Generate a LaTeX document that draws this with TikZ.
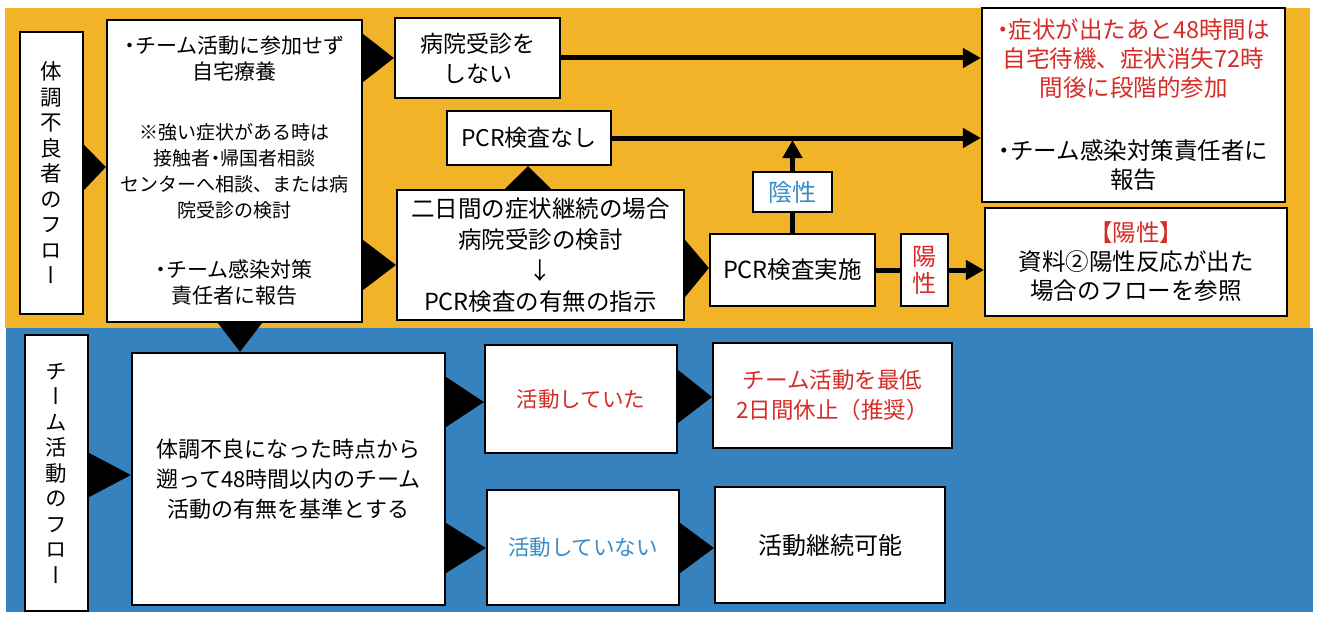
\documentclass[tikz,border=0pt]{standalone}
\usepackage{fontspec}
\setmainfont{Noto Sans CJK JP}
\newfontfamily\jpv[RawFeature=+vert]{Noto Sans CJK JP}
\newcommand\ndot{{\addfontfeature{RawFeature=+palt}・}}
\usetikzlibrary{arrows.meta,calc}
\definecolor{bandY}{RGB}{241,180,40}
\definecolor{bandB}{RGB}{54,130,190}
\definecolor{txtR}{RGB}{214,44,40}
\definecolor{txtB}{RGB}{58,140,200}
\begin{document}
\begin{tikzpicture}[x=1pt,y=-1pt,
  box/.style={draw=black,line width=2.2pt,fill=white,inner sep=0pt,align=center},
  conn/.style={line width=5pt},
  arr/.style={line width=5pt,-{Triangle[length=18pt,width=19pt]}},
  vlabel/.style={box,font=\jpv\fontsize{21.5}{25.5}\selectfont},
]
\fill[white] (0,0) rectangle (1320,618);
\useasboundingbox (0,0) rectangle (1320,618);
\fill[bandY] (5,8) rectangle (1310,328);
\fill[bandB] (6,328) rectangle (1313,612);

% ---- top band nodes
\node[vlabel,minimum width=63pt,minimum height=282pt] (lab1) at (51.5,173)
  {体\\調\\不\\良\\者\\の\\フ\\ロ\\ー};
\node[box,minimum width=255pt,minimum height=302pt,font=\fontsize{21}{26}\selectfont] (b1) at (234.5,171)
  {\ndot チーム活動に参加せず\\自宅療養\\[34pt]
   {\fontsize{19}{25}\selectfont ※強い症状がある時は}\\
   {\fontsize{19}{25}\selectfont 接触者\ndot 帰国者相談}\\
   {\fontsize{19}{25}\selectfont センターへ相談、または病}\\
   {\fontsize{19}{25}\selectfont 院受診の検討}\\[34pt]
   \ndot チーム感染対策\\責任者に報告};
\node[box,minimum width=165pt,minimum height=80pt,font=\fontsize{23}{30}\selectfont] (nohosp) at (477.5,58)
  {病院受診を\\しない};
\node[box,minimum width=164pt,minimum height=54pt,font=\fontsize{23}{30}\selectfont] (nopcr) at (529,138)
  {PCR検査なし};
\node[box,minimum width=287pt,minimum height=130pt,font=\fontsize{23.5}{31}\selectfont] (twoday) at (540.5,255)
  {二日間の症状継続の場合\\病院受診の検討\\↓\\PCR検査の有無の指示};
\node[box,minimum width=165pt,minimum height=72pt,font=\fontsize{23.5}{30}\selectfont] (pcr) at (792.5,270)
  {PCR検査実施};
\node[box,minimum width=79pt,minimum height=40pt,font=\fontsize{24}{30}\selectfont,text=txtB] (neg) at (792.5,192)
  {陰性};
\node[box,minimum width=47pt,minimum height=72pt,font=\fontsize{24}{27}\selectfont,text=txtR] (pos) at (924.5,270)
  {陽\\性};
\node[box,minimum width=303pt,minimum height=194pt,font=\fontsize{23.5}{29}\selectfont] (res1) at (1133.5,105)
  {\textcolor{txtR}{\ndot 症状が出たあと48時間は}\\
   \textcolor{txtR}{自宅待機、症状消失72時}\\
   \textcolor{txtR}{間後に段階的参加}\\[34pt]
   \ndot チーム感染対策責任者に\\報告};
\node[box,minimum width=302pt,minimum height=108pt,font=\fontsize{23.5}{29}\selectfont] (res2) at (1136,262)
  {\textcolor{txtR}{【陽性】}\\資料②陽性反応が出た\\場合のフローを参照};

% ---- bottom band nodes
\node[vlabel,minimum width=63pt,minimum height=276pt] (lab2) at (56.5,473)
  {チ\\ー\\ム\\活\\動\\の\\フ\\ロ\\ー};
\node[box,minimum width=313pt,minimum height=252pt,font=\fontsize{22}{30}\selectfont] (b2) at (288.5,479)
  {体調不良になった時点から\\遡って48時間以内のチーム\\活動の有無を基準とする};
\node[box,minimum width=192pt,minimum height=108pt,font=\fontsize{21.5}{30}\selectfont,text=txtR] (act) at (581,399)
  {活動していた};
\node[box,minimum width=192pt,minimum height=115pt,font=\fontsize{21.5}{30}\selectfont,text=txtB] (noact) at (583,547.5)
  {活動していない};
\node[box,minimum width=239pt,minimum height=105pt,font=\fontsize{22.5}{30}\selectfont,text=txtR] (stop) at (832.5,395.5)
  {チーム活動を最低\\2日間休止（推奨）};
\node[box,minimum width=230pt,minimum height=116pt,font=\fontsize{24}{30}\selectfont] (cont) at (830,545)
  {活動継続可能};

% ---- triangle connectors
\fill (lab1.east |- 0,145) -- (lab1.east |- 0,190) -- (b1.west |- 0,167) -- cycle;
\fill (b1.east |- 0,34) -- (b1.east |- 0,82) -- (nohosp.west |- 0,58) -- cycle;
\fill (b1.east |- 0,240) -- (b1.east |- 0,290) -- (twoday.west |- 0,265) -- cycle;
\fill (twoday.north -| 505,0) -- (twoday.north -| 551,0) -- (nopcr.south -| 528,0) -- cycle;
\fill (twoday.east |- 0,240) -- (twoday.east |- 0,297) -- (pcr.west |- 0,268) -- cycle;
\fill (b1.south -| 218,0) -- (b1.south -| 262,0) -- (b2.north -| 240,0) -- cycle;
\fill (lab2.east |- 0,453) -- (lab2.east |- 0,497) -- (b2.west |- 0,475) -- cycle;
\fill (b2.east |- 0,377) -- (b2.east |- 0,427) -- (act.west |- 0,402) -- cycle;
\fill (b2.east |- 0,523) -- (b2.east |- 0,573) -- (noact.west |- 0,548) -- cycle;
\fill (act.east |- 0,370) -- (act.east |- 0,423) -- (stop.west |- 0,397) -- cycle;
\fill (noact.east |- 0,523) -- (noact.east |- 0,573) -- (cont.west |- 0,548) -- cycle;

% ---- line connectors
\coordinate (vtip) at (792.5,140);
\draw[arr] (nohosp.east) -- (nohosp.east -| res1.west);
\draw[arr] (nopcr.east) -- (nopcr.east -| res1.west);
\draw[conn] (pcr.north) -- (neg.south);
\draw[arr] (neg.north) -- (vtip);
\draw[conn] (pcr.east) -- (pos.west);
\draw[arr] (pos.east) -- (pos.east -| res2.west);
\end{tikzpicture}
\end{document}
